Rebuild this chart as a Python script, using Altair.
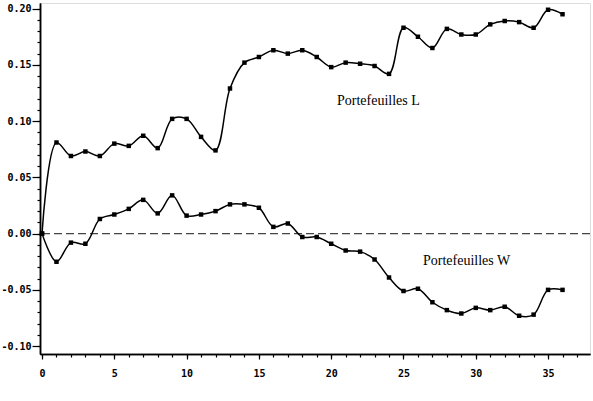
import altair as alt
import pandas as pd

periods = list(range(0, 37))
port_L = [0.000, 0.081, 0.069, 0.073, 0.069, 0.080, 0.078, 0.087, 0.076, 0.102,
          0.102, 0.086, 0.074, 0.129, 0.152, 0.157, 0.163, 0.160, 0.163, 0.157,
          0.148, 0.152, 0.151, 0.149, 0.142, 0.183, 0.175, 0.165, 0.182, 0.177,
          0.177, 0.186, 0.189, 0.188, 0.183, 0.199, 0.195]
port_W = [0.000, -0.025, -0.008, -0.009, 0.013, 0.017, 0.022, 0.030, 0.018, 0.034,
          0.016, 0.017, 0.020, 0.026, 0.026, 0.023, 0.006, 0.009, -0.003, -0.003,
          -0.009, -0.015, -0.016, -0.023, -0.039, -0.051, -0.049, -0.061, -0.068, -0.071,
          -0.066, -0.068, -0.065, -0.073, -0.072, -0.050, -0.050]

label_texts = ["Portefeuilles L", "Portefeuilles W"]
label_x = [20.4, 26.35]
label_y = [0.118, -0.024]

y_major = [-0.10, -0.05, 0.00, 0.05, 0.10, 0.15, 0.20]
y_minor = [round(-0.10 + 0.01 * i, 2) for i in range(31)]
x_major = [0, 5, 10, 15, 20, 25, 30, 35]
x_minor = list(range(0, 38))

df = pd.DataFrame({
    "t": periods * 2,
    "v": port_L + port_W,
    "s": ["L"] * len(periods) + ["W"] * len(periods),
})
lab = pd.DataFrame({"txt": label_texts, "x": label_x, "y": label_y})

xscale = alt.Scale(domain=[-0.14, 37.9], nice=False, zero=False)
yscale = alt.Scale(domain=[-0.107, 0.205], nice=False, zero=False)

common = dict(title=None, grid=False, labelOverlap=False, labelFont="DejaVu Sans Mono",
              labelFontWeight="bold", labelFontSize=10, labelColor="black",
              tickColor="black", domainColor="black", domainWidth=1.5, tickWidth=1.2)

xaxis = alt.Axis(values=x_major, format="d", labelPadding=9, tickSize=5,
                 orient="bottom", **common)
yaxis = alt.Axis(values=y_major, labelPadding=1, tickSize=8, orient="left",
                 labelExpr="replace(format(datum.value, '.2f'), '\u2212', '-')", **common)
xaxis_minor = alt.Axis(values=x_minor, labels=False, tickSize=3, orient="bottom", **common)
yaxis_minor = alt.Axis(values=y_minor, labels=False, tickSize=3, orient="left", **common)

base = alt.Chart(df)
lines = base.mark_line(interpolate="catmull-rom", color="black", strokeWidth=1.5).encode(
    x=alt.X("t:Q", scale=xscale, axis=xaxis),
    y=alt.Y("v:Q", scale=yscale, axis=yaxis),
    detail="s:N",
)
pts = base.mark_square(color="black", size=20, opacity=1).encode(
    x=alt.X("t:Q", scale=xscale, axis=xaxis_minor),
    y=alt.Y("v:Q", scale=yscale, axis=yaxis_minor),
)
zero = alt.Chart(pd.DataFrame({"z": [0.0]})).mark_rule(
    color="#444444", strokeDash=[8, 4], strokeWidth=1.3
).encode(y=alt.Y("z:Q", scale=yscale, axis=None))
texts = alt.Chart(lab).mark_text(
    font="Liberation Serif", fontSize=14, align="left", baseline="middle", color="black"
).encode(
    x=alt.X("x:Q", scale=xscale, axis=None),
    y=alt.Y("y:Q", scale=yscale, axis=None),
    text="txt:N",
)

chart = alt.layer(zero, lines, pts, texts).resolve_axis(
    x="independent", y="independent"
).properties(
    width=550, height=351,
    padding={"left": 40, "top": 3, "right": 3, "bottom": 47},
    autosize=alt.AutoSizeParams(type="none"),
).configure_view(stroke=None).configure(background="white")

chart.save("out.html", embed_options={"renderer": "svg", "actions": False})
